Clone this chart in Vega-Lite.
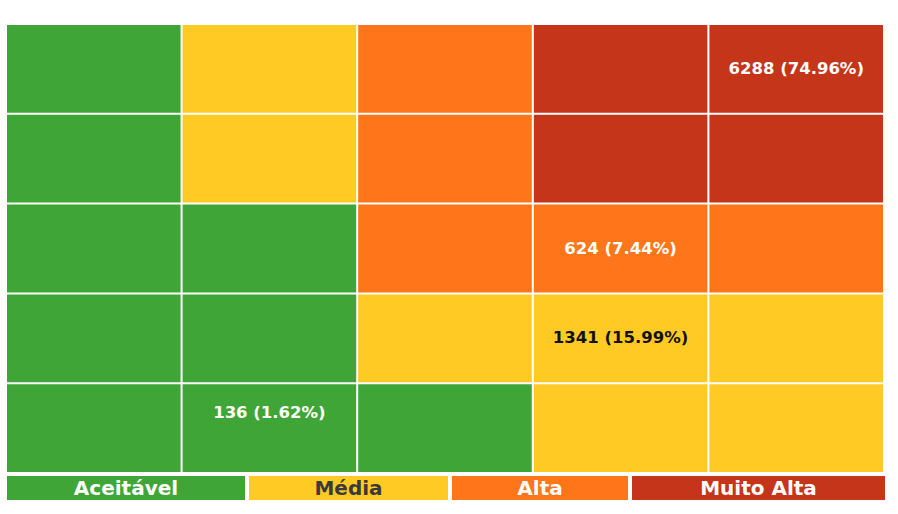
{
  "$schema": "https://vega.github.io/schema/vega-lite/v6.json",
  "background": "white",
  "padding": {"left": 7, "top": 25, "right": 0, "bottom": 0},
  "config": {"view": {"stroke": null}},
  "spacing": 4,
  "vconcat": [
    {
      "width": 876,
      "height": 447,
      "data": {"values": [
        {"prob": "5", "imp": "1", "level": "Aceitável", "label": ""},
        {"prob": "5", "imp": "2", "level": "Média", "label": ""},
        {"prob": "5", "imp": "3", "level": "Alta", "label": ""},
        {"prob": "5", "imp": "4", "level": "Muito Alta", "label": ""},
        {"prob": "5", "imp": "5", "level": "Muito Alta", "label": "6288 (74.96%)"},
        {"prob": "4", "imp": "1", "level": "Aceitável", "label": ""},
        {"prob": "4", "imp": "2", "level": "Média", "label": ""},
        {"prob": "4", "imp": "3", "level": "Alta", "label": ""},
        {"prob": "4", "imp": "4", "level": "Muito Alta", "label": ""},
        {"prob": "4", "imp": "5", "level": "Muito Alta", "label": ""},
        {"prob": "3", "imp": "1", "level": "Aceitável", "label": ""},
        {"prob": "3", "imp": "2", "level": "Aceitável", "label": ""},
        {"prob": "3", "imp": "3", "level": "Alta", "label": ""},
        {"prob": "3", "imp": "4", "level": "Alta", "label": "624 (7.44%)"},
        {"prob": "3", "imp": "5", "level": "Alta", "label": ""},
        {"prob": "2", "imp": "1", "level": "Aceitável", "label": ""},
        {"prob": "2", "imp": "2", "level": "Aceitável", "label": ""},
        {"prob": "2", "imp": "3", "level": "Média", "label": ""},
        {"prob": "2", "imp": "4", "level": "Média", "label": "1341 (15.99%)"},
        {"prob": "2", "imp": "5", "level": "Média", "label": ""},
        {"prob": "1", "imp": "1", "level": "Aceitável", "label": ""},
        {"prob": "1", "imp": "2", "level": "Aceitável", "label": "136 (1.62%)"},
        {"prob": "1", "imp": "3", "level": "Aceitável", "label": ""},
        {"prob": "1", "imp": "4", "level": "Média", "label": ""},
        {"prob": "1", "imp": "5", "level": "Média", "label": ""}
      ]},
      "encoding": {
        "x": {"field": "imp", "type": "ordinal", "sort": ["1", "2", "3", "4", "5"], "axis": null,
              "scale": {"paddingInner": 0.0115, "paddingOuter": 0}},
        "y": {"field": "prob", "type": "ordinal", "sort": ["5", "4", "3", "2", "1"], "axis": null,
              "scale": {"paddingInner": 0.0225, "paddingOuter": 0}}
      },
      "layer": [
        {
          "mark": {"type": "rect"},
          "encoding": {
            "color": {"field": "level", "type": "nominal", "legend": null,
                      "scale": {"domain": ["Aceitável", "Média", "Alta", "Muito Alta"],
                                "range": ["#40A537", "#FFCA23", "#FF761A", "#C4351A"]}}
          }
        },
        {
          "transform": [{"filter": "datum.label !== '' && datum.prob !== '1'"}],
          "mark": {"type": "text", "font": "DejaVu Sans", "fontWeight": "bold", "fontSize": 16.5, "baseline": "middle"},
          "encoding": {
            "text": {"field": "label"},
            "color": {"condition": {"test": "datum.level === 'Média'", "value": "#111111"}, "value": "white"}
          }
        },
        {
          "transform": [{"filter": "datum.label !== '' && datum.prob === '1'"}],
          "mark": {"type": "text", "font": "DejaVu Sans", "fontWeight": "bold", "fontSize": 16.5, "baseline": "middle", "dy": -15},
          "encoding": {
            "text": {"field": "label"},
            "color": {"value": "white"}
          }
        }
      ]
    },
    {
      "width": 882,
      "height": 24,
      "data": {"values": [
        {"level": "Aceitável", "share": 242, "ord": 1},
        {"level": "Média", "share": 203, "ord": 2},
        {"level": "Alta", "share": 180, "ord": 3},
        {"level": "Muito Alta", "share": 257, "ord": 4}
      ]},
      "transform": [
        {"stack": "share", "groupby": [], "sort": [{"field": "ord"}], "as": ["s0", "s1"]},
        {"calculate": "(datum.s0 + datum.s1) / 2", "as": "mid"}
      ],
      "layer": [
        {
          "mark": {"type": "rect", "x2Offset": -4},
          "encoding": {
            "x": {"field": "s0", "type": "quantitative", "axis": null, "scale": {"domain": [0, 882], "nice": false, "zero": false}},
            "x2": {"field": "s1"},
            "color": {"field": "level", "type": "nominal", "legend": null,
                      "scale": {"domain": ["Aceitável", "Média", "Alta", "Muito Alta"],
                                "range": ["#40A537", "#FFCA23", "#FF761A", "#C4351A"]}}
          }
        },
        {
          "mark": {"type": "text", "font": "DejaVu Sans", "fontWeight": "bold", "fontSize": 20, "baseline": "middle", "dx": -2, "dy": 1},
          "encoding": {
            "x": {"field": "mid", "type": "quantitative", "axis": null, "scale": {"domain": [0, 882], "nice": false, "zero": false}},
            "text": {"field": "level"},
            "color": {"condition": {"test": "datum.level === 'Média'", "value": "#3A3A3A"}, "value": "white"}
          }
        }
      ]
    }
  ]
}
